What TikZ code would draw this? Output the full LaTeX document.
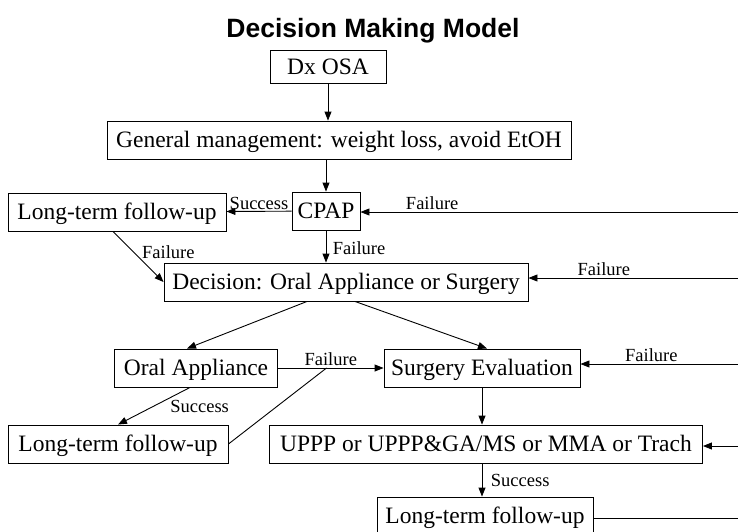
\documentclass[tikz,border=0pt]{standalone}
\usepackage{fontspec}
\setmainfont{Liberation Serif}
\newfontfamily\headfont{Liberation Sans}
\usetikzlibrary{arrows.meta}
\usetikzlibrary{calc}

\begin{document}
\begin{tikzpicture}[x=1pt, y=-1pt,
  box/.style={draw, line width=0.9pt, minimum height=38pt, inner xsep=2pt,
              text height=15.5pt, text depth=0pt,
              font=\fontsize{23.5}{26}\selectfont},
  lbl/.style={font=\fontsize{18.5}{20}\selectfont, inner sep=1.5pt},
  arr/.style={line width=0.9pt, -{Triangle[length=9pt,width=7pt]}},
  ln/.style={line width=0.9pt}]
\useasboundingbox (0,0) rectangle (738,531);

\node[anchor=base, font=\headfont\bfseries\fontsize{26.5}{30}\selectfont]
     (title) at (373,37) {Decision Making Model};

\node[box, minimum width=116pt, minimum height=33pt] (dx) at (328,67) {Dx OSA};
\node[box, minimum width=464pt] (gm) at (339,140)
     {General management: weight loss, avoid EtOH};
\node[box, minimum width=68pt] (cpap) at (326,211) {CPAP};
\node[box, minimum width=218pt] (ltf1) at (117,212) {Long-term follow-up};
\node[box, minimum width=364pt] (dec) at (346,282)
     {Decision: Oral Appliance or Surgery};
\node[box, minimum width=163pt] (oa) at (196,368) {Oral Appliance};
\node[box, minimum width=196pt] (se) at (482,368) {Surgery Evaluation};
\node[box, minimum width=220pt] (ltf2) at (118,444) {Long-term follow-up};
\node[box, minimum width=433pt] (uppp) at (486,444)
     {UPPP or UPPP\&GA/MS or MMA or Trach};
\node[box, minimum width=216pt] (ltf3) at (485,516) {Long-term follow-up};

\coordinate (e1) at (738,212);
\coordinate (e2) at (738,278);
\coordinate (e3) at (738,364);
\coordinate (e4) at (738,446);
\coordinate (e5) at (738,518);
\coordinate (join) at ($(oa.east)!0.46!(se.west)$);

\draw[arr] (dx) -- (dx |- gm.north);
\draw[arr] (cpap |- gm.south) -- (cpap);
\draw[arr] (cpap) -- node[lbl, above] {Success} (ltf1);
\draw[arr] (e1) -- node[lbl, above, pos=0.81] {Failure} (e1 -| cpap.east);
\draw[arr] (cpap) -- node[lbl, right=5pt, pos=0.55] {Failure} (cpap |- dec.north);
\draw[arr] ([xshift=-4pt]ltf1.south) -- node[lbl, right=7pt, pos=0.4] {Failure} (dec.west);
\draw[arr] (e2) -- node[lbl, above, pos=0.64] {Failure} (e2 -| dec.east);
\draw[arr] ([xshift=-39pt]dec.south) -- ([xshift=-9pt]oa.north);
\draw[arr] ([xshift=9pt]dec.south) -- ([xshift=5pt]se.north);
\draw[arr] (oa) -- node[lbl, above] {Failure} (se);
\draw[arr] (e3) -- node[lbl, above, pos=0.55] {Failure} (e3 -| se.east);
\draw[arr] ([xshift=-6pt]oa.south) -- node[lbl, below right, pos=0.3] {Success} (ltf2.north);
\draw[ln] (ltf2.east) -- (join);
\draw[arr] (se) -- (se |- uppp.north);
\draw[arr] (e4) -- (e4 -| uppp.east);
\draw[arr] (se |- uppp.south) -- node[lbl, right=7pt] {Success} (se |- ltf3.north);
\draw[ln] (e5 -| ltf3.east) -- (e5);
\end{tikzpicture}
\end{document}
